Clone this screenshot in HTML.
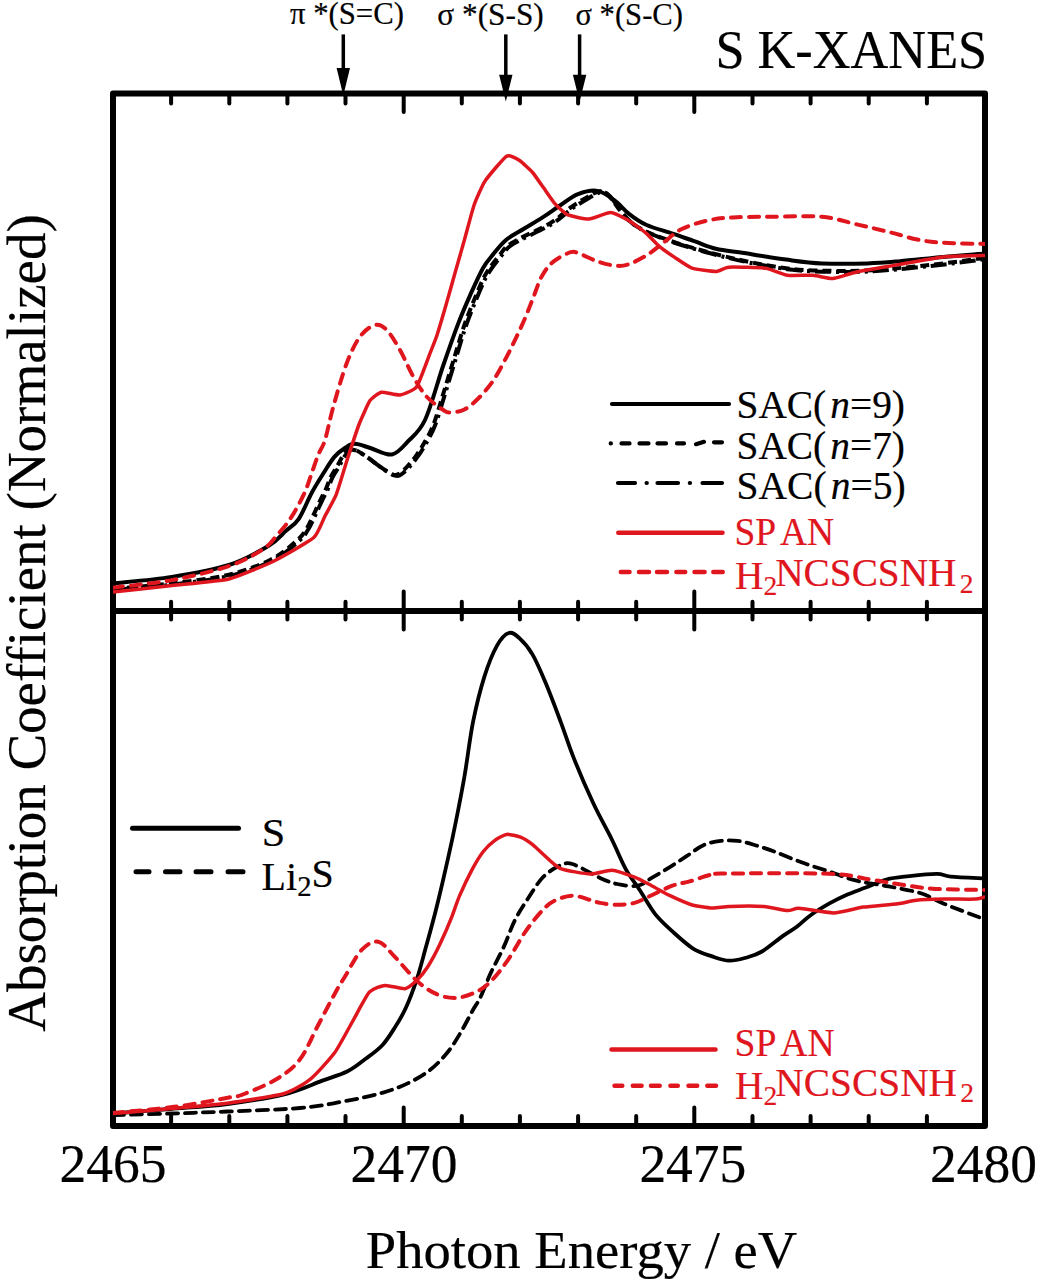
<!DOCTYPE html><html><head><meta charset="utf-8"><style>html,body{margin:0;padding:0;background:#fff;width:1044px;height:1280px;overflow:hidden}svg{display:block}text{font-family:"Liberation Serif",serif}</style></head><body>
<svg width="1044" height="1280" viewBox="0 0 1044 1280">
<rect x="113.0" y="93.5" width="872.0" height="1032.5" fill="none" stroke="#000" stroke-width="6" stroke-linejoin="round"/>
<line x1="113.0" y1="611.0" x2="985.0" y2="611.0" stroke="#000" stroke-width="6"/>
<path d="M171.1 93.5V103.5M171.1 601.8V619.6M171.1 1126.0V1116.0M229.3 93.5V103.5M229.3 601.8V619.6M229.3 1126.0V1116.0M287.4 93.5V103.5M287.4 601.8V619.6M287.4 1126.0V1116.0M345.5 93.5V103.5M345.5 601.8V619.6M345.5 1126.0V1116.0M403.7 93.5V112.0M403.7 591.5V629.5M403.7 1126.0V1107.5M461.8 93.5V103.5M461.8 601.8V619.6M461.8 1126.0V1116.0M519.9 93.5V103.5M519.9 601.8V619.6M519.9 1126.0V1116.0M578.1 93.5V103.5M578.1 601.8V619.6M578.1 1126.0V1116.0M636.2 93.5V103.5M636.2 601.8V619.6M636.2 1126.0V1116.0M694.3 93.5V112.0M694.3 591.5V629.5M694.3 1126.0V1107.5M752.5 93.5V103.5M752.5 601.8V619.6M752.5 1126.0V1116.0M810.6 93.5V103.5M810.6 601.8V619.6M810.6 1126.0V1116.0M868.7 93.5V103.5M868.7 601.8V619.6M868.7 1126.0V1116.0M926.9 93.5V103.5M926.9 601.8V619.6M926.9 1126.0V1116.0" stroke="#000" stroke-width="4" stroke-linecap="round" fill="none"/>
<line x1="343.3" y1="34.4" x2="343.3" y2="71" stroke="#000" stroke-width="3.5"/>
<path d="M336.6 68 L350.0 68 L343.3 95.5 Z" fill="#000"/>
<line x1="505.8" y1="34.4" x2="505.8" y2="77.8" stroke="#000" stroke-width="3.5"/>
<path d="M499.1 74.8 L512.5 74.8 L505.8 101.6 Z" fill="#000"/>
<line x1="579.6" y1="34.4" x2="579.6" y2="77.8" stroke="#000" stroke-width="3.5"/>
<path d="M572.9 74.8 L586.3000000000001 74.8 L579.6 101.6 Z" fill="#000"/>
<text transform="translate(290.0,24.4) scale(0.9912,1)" font-size="31.0" fill="#000" stroke="#000" stroke-width="0.2">π *(S=C)</text>
<text transform="translate(437.3,24.5) scale(1.0097,1)" font-size="31.0" fill="#000" stroke="#000" stroke-width="0.2">σ *(S-S)</text>
<text transform="translate(575.4,24.5) scale(0.9887,1)" font-size="31.0" fill="#000" stroke="#000" stroke-width="0.2">σ *(S-C)</text>
<text transform="translate(715.4,67.9) scale(0.9693,1)" font-size="54.0" fill="#000" stroke="#000" stroke-width="0.2">S K-XANES</text>
<text transform="translate(59.5,1181.5) scale(0.99,1)" font-size="54.0" fill="#000" stroke="#000" stroke-width="0.2">2465</text>
<text transform="translate(350.5,1181.5) scale(0.99,1)" font-size="54.0" fill="#000" stroke="#000" stroke-width="0.2">2470</text>
<text transform="translate(639.4,1181.7) scale(0.99,1)" font-size="54.0" fill="#000" stroke="#000" stroke-width="0.2">2475</text>
<text transform="translate(930.1,1181.5) scale(0.99,1)" font-size="54.0" fill="#000" stroke="#000" stroke-width="0.2">2480</text>
<text transform="translate(45,623) rotate(-90)" font-size="55" stroke="#000" stroke-width="0.2" text-anchor="middle">Absorption Coefficient (Normalized)</text>
<text transform="translate(581.5,1267.5) scale(1.019,1)" font-size="53.6" stroke="#000" stroke-width="0.2" text-anchor="middle">Photon Energy / eV</text>
<path d="M612.0 404.0L729.0 404.0" stroke="#000" stroke-width="4.2" stroke-linecap="round" fill="none"/>
<text transform="translate(736.5,418.0) scale(1.0098,1)" font-size="39.0" fill="#000" stroke="#000" stroke-width="0.2">SAC(<tspan font-style="italic" dx="4">n</tspan>=9)</text>
<path d="M610.7 443.4L610.9 443.4M621.5 443.4L629.5 443.4M639.5 443.4L648.5 443.4M657.5 443.4L666.0 443.4M677.0 443.4L684.0 443.4M696.0 444.2L704.0 441.8M714.0 442.3L722.0 442.3" stroke="#000" stroke-width="4.2" stroke-linecap="round" fill="none"/>
<text transform="translate(736.5,458.8) scale(1.0098,1)" font-size="39.0" fill="#000" stroke="#000" stroke-width="0.2">SAC(<tspan font-style="italic" dx="4">n</tspan>=7)</text>
<path d="M618.0 483.0L635.0 483.0M646.6 483.0L646.8 483.0M657.5 483.0L678.0 483.0M689.8 483.0L690.0 483.0M702.5 483.0L722.0 483.0" stroke="#000" stroke-width="4.2" stroke-linecap="round" fill="none"/>
<text transform="translate(736.5,499.0) scale(1.0141,1)" font-size="39.0" fill="#000" stroke="#000" stroke-width="0.2">SAC(<tspan font-style="italic" dx="4">n</tspan>=5)</text>
<path d="M618.3 532.7L722.5 532.7" stroke="#e0161e" stroke-width="4.5" stroke-linecap="round" fill="none"/>
<text transform="translate(734.5,544.7) scale(0.9499,1)" font-size="39.5" fill="#e0161e" stroke="#e0161e" stroke-width="0.2">SP<tspan dx="4">AN</tspan></text>
<path d="M620.8 572.0L629.5 572.0M639.0 572.0L649.0 572.0M657.0 572.0L667.0 572.0M676.4 572.0L685.2 572.0M694.5 572.0L704.6 572.0M713.3 572.0L722.7 572.0" stroke="#e0161e" stroke-width="4.5" stroke-linecap="round" fill="none"/>
<text transform="translate(735.1,589.0) scale(0.9821,1)" font-size="40.0" fill="#e0161e" stroke="#e0161e" stroke-width="0.2">H<tspan font-size="0.7em" dy="0.23em">2</tspan><tspan dy="-0.23em" dx="-0.05em">NCSCSNH</tspan><tspan font-size="0.7em" dy="0.23em" dx="0.12em">2</tspan></text>
<path d="M132.5 828.3L238.5 828.3" stroke="#000" stroke-width="5" stroke-linecap="round" fill="none"/>
<text transform="translate(261.7,845.9) scale(1.0317,1)" font-size="41.0" fill="#000" stroke="#000" stroke-width="0.2">S</text>
<path d="M136.0 871.8L149.0 871.8M165.5 871.8L180.0 871.8M196.0 871.8L211.0 871.8M228.0 871.8L243.0 871.8" stroke="#000" stroke-width="5" stroke-linecap="round" fill="none"/>
<text transform="translate(261.6,889.6) scale(1.0,1)" font-size="40.0" fill="#000" stroke="#000" stroke-width="0.2">Li<tspan font-size="0.72em" dy="0.23em">2</tspan><tspan dy="-0.23em">S</tspan></text>
<path d="M611.5 1049.4L715.5 1049.4" stroke="#e0161e" stroke-width="4.5" stroke-linecap="round" fill="none"/>
<text transform="translate(734.5,1056.0) scale(0.9535,1)" font-size="39.5" fill="#e0161e" stroke="#e0161e" stroke-width="0.2">SP<tspan dx="4">AN</tspan></text>
<path d="M614.5 1085.7L622.3 1085.7M632.8 1085.7L641.6 1085.7M651.0 1085.7L659.7 1085.7M670.4 1085.7L677.8 1085.7M688.5 1085.7L697.2 1085.7M707.3 1085.7L716.0 1085.7" stroke="#e0161e" stroke-width="4.5" stroke-linecap="round" fill="none"/>
<text transform="translate(735.1,1098.6) scale(0.985,1)" font-size="40.0" fill="#e0161e" stroke="#e0161e" stroke-width="0.2">H<tspan font-size="0.7em" dy="0.23em">2</tspan><tspan dy="-0.23em" dx="-0.05em">NCSCSNH</tspan><tspan font-size="0.7em" dy="0.23em" dx="0.12em">2</tspan></text>
<g clip-path="url(#cp)">
<clipPath id="cp"><rect x="113.0" y="93.5" width="872.0" height="1032.5"/></clipPath>
<path d="M113.0 588.8C122.8 587.9 152.7 585.8 172.0 583.4C191.3 581.0 212.5 578.7 229.0 574.7C245.5 570.7 259.6 565.3 271.0 559.5C282.4 553.7 291.6 545.2 297.5 540.0C303.4 534.8 304.0 532.7 306.7 528.5C309.4 524.3 311.3 519.5 313.6 514.7C315.9 509.9 318.4 504.2 320.5 499.8C322.6 495.4 324.5 492.1 326.2 488.3C327.9 484.5 328.9 480.6 330.8 476.8C332.7 473.0 335.6 469.0 337.7 465.3C339.8 461.6 341.5 457.6 343.4 454.9C345.3 452.2 347.1 450.0 349.2 449.2C351.3 448.4 352.9 448.8 356.0 450.2C359.1 451.6 363.7 454.8 367.5 457.4C371.3 460.0 374.7 463.1 379.0 466.0C383.3 468.9 389.5 473.7 393.3 474.6C397.1 475.6 398.4 474.6 402.0 471.7C405.6 468.8 411.1 462.4 414.9 457.4C418.7 452.4 421.9 447.1 425.0 441.6C428.1 436.1 430.6 432.1 433.6 424.3C436.6 416.5 439.6 405.7 442.9 395.0C446.2 384.3 450.0 371.7 453.6 360.0C457.2 348.3 460.6 336.0 464.4 325.0C468.2 314.0 473.0 302.5 476.6 294.0C480.2 285.5 482.1 280.3 485.8 274.0C489.5 267.7 494.6 261.2 498.9 256.0C503.2 250.8 503.3 248.3 511.8 242.9C520.3 237.5 540.2 229.2 549.9 223.4C559.6 217.6 563.9 212.3 570.0 208.0C576.1 203.7 581.9 200.2 586.7 197.4C591.5 194.6 595.4 191.8 599.0 191.4C602.6 191.0 603.0 190.0 608.4 195.2C613.8 200.4 621.4 215.3 631.4 222.8C641.4 230.3 652.0 234.3 668.2 240.1C684.5 245.9 709.3 252.7 728.9 257.4C748.5 262.1 768.7 265.9 786.0 268.2C803.3 270.4 817.4 270.6 832.8 270.9C848.2 271.2 859.9 271.1 878.3 269.8C896.7 268.6 925.4 265.4 943.2 263.4C961.0 261.4 978.0 258.8 985.0 257.9" fill="none" stroke="#000" stroke-width="4" stroke-linejoin="round" stroke-linecap="butt" stroke-dasharray="9 5"/>
<path d="M114.5 589.8C124.3 588.9 154.2 586.8 173.5 584.4C192.8 582.0 214.0 579.7 230.5 575.7C247.0 571.7 261.1 566.3 272.5 560.5C283.9 554.7 293.1 546.2 299.0 541.0C304.9 535.8 305.5 533.7 308.2 529.5C310.9 525.3 312.8 520.5 315.1 515.7C317.4 510.9 319.9 505.2 322.0 500.8C324.1 496.4 326.0 493.1 327.7 489.3C329.4 485.5 330.4 481.6 332.3 477.8C334.2 474.0 337.1 470.0 339.2 466.3C341.3 462.6 343.0 458.6 344.9 455.9C346.8 453.2 348.6 451.0 350.7 450.2C352.8 449.4 354.4 449.8 357.5 451.2C360.6 452.6 365.2 455.8 369.0 458.4C372.8 461.0 376.2 464.1 380.5 467.0C384.8 469.9 391.0 474.7 394.8 475.6C398.6 476.6 399.9 475.6 403.5 472.7C407.1 469.8 412.6 463.4 416.4 458.4C420.2 453.4 423.4 448.1 426.5 442.6C429.6 437.1 432.1 433.1 435.1 425.3C438.1 417.5 441.1 406.7 444.4 396.0C447.7 385.3 451.5 372.7 455.1 361.0C458.7 349.3 462.1 337.0 465.9 326.0C469.7 315.0 474.5 303.5 478.1 295.0C481.7 286.5 483.6 281.3 487.3 275.0C491.0 268.7 496.1 262.2 500.4 257.0C504.7 251.8 504.8 249.3 513.3 243.9C521.8 238.5 541.7 230.2 551.4 224.4C561.1 218.6 565.4 213.3 571.5 209.0C577.6 204.7 583.4 201.2 588.2 198.4C593.0 195.6 596.9 192.8 600.5 192.4C604.1 192.0 604.5 191.0 609.9 196.2C615.3 201.4 622.9 216.3 632.9 223.8C642.9 231.3 653.5 235.3 669.7 241.1C686.0 246.9 710.8 253.7 730.4 258.4C750.0 263.1 770.2 266.9 787.5 269.2C804.8 271.4 818.9 271.6 834.3 271.9C849.7 272.2 861.4 272.1 879.8 270.8C898.2 269.6 926.9 266.4 944.7 264.4C962.5 262.4 979.5 259.8 986.5 258.9" fill="none" stroke="#000" stroke-width="4" stroke-linejoin="round" stroke-linecap="butt" stroke-dasharray="16 5 3 5"/>
<path d="M113.0 583.4C122.8 582.3 152.7 580.0 172.0 576.9C191.3 573.8 212.9 570.2 229.0 565.0C245.1 559.8 259.2 551.4 268.7 545.7C278.2 540.0 281.0 535.3 286.0 530.8C291.0 526.3 294.5 525.2 298.8 518.8C303.1 512.4 307.8 500.0 311.9 492.5C315.9 485.0 319.4 479.7 323.1 473.8C326.9 467.9 330.6 461.3 334.4 456.9C338.1 452.5 342.2 449.7 345.6 447.5C349.0 445.3 350.9 443.7 355.0 443.8C359.1 443.9 364.2 446.2 370.3 448.0C376.4 449.8 385.7 455.6 391.9 454.5C398.1 453.4 402.2 447.4 407.7 441.6C413.2 435.9 419.1 432.5 425.0 420.0C430.9 407.5 437.4 382.6 442.9 366.5C448.4 350.4 453.6 335.6 458.2 323.6C462.8 311.6 466.4 303.6 470.5 294.4C474.6 285.2 479.0 275.1 482.8 268.4C486.6 261.7 489.2 259.1 493.1 254.4C497.0 249.7 500.9 244.3 506.0 240.0C511.1 235.7 517.7 232.7 523.9 228.8C530.1 225.0 537.3 220.9 543.4 216.9C549.5 212.9 554.9 208.8 560.7 205.0C566.5 201.2 571.9 196.4 578.0 194.1C584.1 191.8 591.4 189.8 597.5 190.9C603.6 192.0 609.5 196.7 614.8 200.6C620.1 204.5 624.0 210.0 629.3 214.1C634.6 218.2 639.4 221.8 646.6 225.0C653.8 228.2 664.7 230.9 672.6 233.6C680.5 236.3 687.0 238.7 694.2 241.2C701.4 243.7 707.6 246.8 715.9 248.8C724.2 250.8 732.3 251.3 744.0 253.1C755.7 254.9 773.0 257.9 786.0 259.6C799.0 261.3 808.4 262.8 822.0 263.4C835.6 264.0 854.4 263.8 867.4 263.4C880.4 263.0 887.3 262.3 899.9 261.2C912.5 260.1 929.0 258.2 943.2 256.9C957.4 255.6 978.0 254.1 985.0 253.5" fill="none" stroke="#000" stroke-width="4" stroke-linejoin="round" stroke-linecap="butt"/>
<path d="M113.0 592.0C117.9 591.5 162.3 586.6 172.0 585.5C181.7 584.4 220.5 581.1 229.0 579.0C237.5 576.9 267.4 564.2 274.5 560.7C281.6 557.2 309.6 541.2 313.8 537.5C318.0 533.8 323.1 519.6 325.0 516.0C326.9 512.4 334.4 499.2 336.3 494.4C338.2 489.6 345.6 464.6 347.5 458.8C349.4 453.0 356.9 429.9 358.8 425.0C360.7 420.1 368.1 403.3 370.0 400.6C371.9 397.9 378.8 392.7 381.3 392.2C383.8 391.7 397.1 395.5 400.0 395.0C402.9 394.5 414.2 390.2 416.7 386.7C419.2 383.2 428.3 357.5 430.0 353.3C431.7 349.1 435.5 339.8 436.8 335.8C438.1 331.8 444.5 310.2 446.0 305.0C447.5 299.8 453.5 278.4 455.0 273.0C456.5 267.6 462.8 245.7 464.4 240.0C466.0 234.3 472.4 209.9 474.1 205.0C475.8 200.1 482.3 185.2 485.0 181.1C487.7 177.0 503.7 157.9 506.6 156.2C509.5 154.5 517.4 159.2 519.6 160.6C521.8 162.0 530.6 170.2 532.6 172.5C534.6 174.8 541.6 185.1 543.4 187.6C545.2 190.1 552.2 200.5 554.2 202.8C556.2 205.1 564.3 213.3 567.2 214.7C570.1 216.0 585.3 219.2 588.9 219.0C592.5 218.8 607.3 212.4 610.5 212.5C613.7 212.6 624.8 218.4 627.8 220.1C630.8 221.8 643.4 230.9 646.0 233.1C648.6 235.3 657.2 244.6 659.6 246.6C662.0 248.6 672.0 255.6 674.7 257.4C677.4 259.2 688.6 267.0 692.0 268.2C695.4 269.4 712.8 271.6 715.9 271.5C719.0 271.4 724.8 267.5 728.9 267.2C733.0 266.9 760.8 267.5 765.7 268.2C770.6 268.9 783.3 274.7 787.3 275.3C791.3 275.9 809.5 275.0 813.3 275.3C817.1 275.6 829.2 278.8 832.8 278.5C836.4 278.2 851.0 273.2 856.6 272.0C862.2 270.8 892.7 265.7 899.9 264.4C907.1 263.1 936.1 257.6 943.2 256.9C950.3 256.2 981.5 255.6 985.0 255.5" fill="none" stroke="#e0161e" stroke-width="3.5" stroke-linejoin="round" stroke-linecap="butt"/>
<path d="M113.0 587.7C122.8 586.4 152.7 583.7 172.0 580.1C191.3 576.5 213.8 571.1 229.0 566.0C244.2 560.9 255.0 554.3 263.0 549.2C271.0 544.1 272.6 540.0 276.8 535.4C281.0 530.8 284.9 526.4 288.3 521.6C291.8 516.8 294.6 511.9 297.5 506.7C300.4 501.5 303.2 496.0 305.5 490.6C307.8 485.2 309.2 480.4 311.3 474.5C313.4 468.6 315.9 460.6 318.2 454.9C320.5 449.1 322.5 448.0 325.0 440.0C327.5 432.0 329.7 419.5 333.3 406.7C336.9 393.9 342.2 375.0 346.7 363.3C351.1 351.6 355.3 343.1 360.0 336.7C364.7 330.3 370.6 326.1 375.0 325.0C379.4 323.9 382.5 325.8 386.7 330.0C390.9 334.2 395.6 342.2 400.0 350.0C404.4 357.8 408.9 368.9 413.3 376.7C417.8 384.5 421.7 391.1 426.7 396.7C431.7 402.2 439.4 407.4 443.3 410.0C447.2 412.6 446.5 412.5 450.0 412.4C453.5 412.3 459.6 411.9 464.4 409.5C469.2 407.1 473.9 402.8 478.7 398.0C483.5 393.2 488.8 387.0 493.1 380.8C497.4 374.6 501.0 367.4 504.6 360.7C508.2 354.0 511.4 347.6 514.7 340.6C518.1 333.7 521.6 326.2 524.7 319.0C527.8 311.8 530.4 304.7 533.3 297.5C536.2 290.3 538.6 281.9 542.0 275.9C545.4 269.9 548.6 265.6 553.4 261.6C558.2 257.7 566.4 253.5 570.7 252.2C575.0 250.9 574.8 252.0 579.3 253.6C583.8 255.2 592.1 259.6 598.0 261.6C603.9 263.6 609.8 265.1 614.8 265.6C619.8 266.1 622.5 266.2 627.8 264.5C633.1 262.8 640.6 259.0 646.6 255.3C652.6 251.6 658.1 246.6 663.9 242.3C669.7 238.0 674.0 232.9 681.2 229.3C688.4 225.7 698.5 222.6 707.2 220.6C715.9 218.6 722.7 218.0 733.2 217.4C743.7 216.8 755.2 216.9 770.0 216.8C784.8 216.7 807.6 215.5 822.0 216.8C836.4 218.1 845.4 221.9 856.6 224.4C867.8 226.9 878.9 229.5 889.0 232.0C899.1 234.5 908.2 237.7 917.2 239.5C926.2 241.3 931.9 242.1 943.2 242.8C954.5 243.5 978.0 243.7 985.0 243.9" fill="none" stroke="#e0161e" stroke-width="4" stroke-linejoin="round" stroke-linecap="round" stroke-dasharray="10 8"/>
<path d="M113.0 1115.0C122.8 1114.8 152.9 1114.1 172.0 1113.5C191.1 1112.9 206.0 1112.4 227.3 1111.5C248.6 1110.6 280.7 1109.7 300.0 1108.0C319.3 1106.3 329.6 1104.0 343.3 1101.5C357.0 1099.0 371.5 1095.9 382.3 1092.8C393.1 1089.7 400.3 1086.9 408.2 1083.1C416.1 1079.3 423.4 1075.1 429.9 1070.1C436.4 1065.0 442.1 1058.9 447.2 1052.8C452.2 1046.7 455.9 1040.5 460.2 1033.3C464.5 1026.1 469.9 1015.4 473.2 1009.5C476.5 1003.6 477.2 1004.0 480.1 997.9C483.1 991.8 486.9 981.1 490.9 972.6C494.9 964.1 499.9 955.3 503.9 946.6C507.9 937.9 510.7 928.5 514.7 920.6C518.7 912.7 523.0 906.2 527.7 899.0C532.4 891.8 537.5 882.9 542.9 877.3C548.3 871.7 555.2 867.6 560.2 865.4C565.2 863.2 566.6 862.2 573.2 864.3C579.8 866.4 592.7 874.6 600.0 877.9C607.3 881.2 610.9 882.7 617.2 884.0C623.5 885.3 632.1 886.7 637.9 885.7C643.6 884.7 646.5 880.9 651.7 877.9C656.9 874.9 663.2 871.2 669.0 867.6C674.8 864.0 680.5 860.1 686.2 856.4C691.9 852.7 697.6 847.8 703.4 845.2C709.1 842.6 715.0 841.6 720.7 840.9C726.5 840.2 732.1 840.2 737.9 840.9C743.6 841.6 748.9 843.3 755.2 845.2C761.5 847.1 768.2 849.2 775.9 852.1C783.6 855.0 792.5 859.1 801.4 862.3C810.2 865.5 819.8 868.4 829.0 871.5C838.2 874.6 846.6 878.2 856.6 880.7C866.6 883.2 878.0 884.3 888.7 886.4C899.4 888.5 911.7 890.4 920.9 893.3C930.1 896.2 933.2 899.3 943.9 903.7C954.6 908.1 978.1 916.9 985.0 919.5" fill="none" stroke="#000" stroke-width="3.8" stroke-linejoin="round" stroke-linecap="round" stroke-dasharray="11 7"/>
<path d="M113.0 1113.5C122.5 1112.8 151.2 1110.6 170.3 1109.0C189.4 1107.4 208.3 1106.5 227.3 1104.0C246.3 1101.5 268.6 1098.1 284.3 1094.3C300.0 1090.5 311.1 1084.8 321.6 1080.9C332.2 1077.1 340.4 1074.8 347.6 1071.2C354.8 1067.6 359.2 1063.6 365.0 1059.3C370.8 1055.0 377.2 1050.6 382.3 1045.2C387.4 1039.8 391.3 1033.1 395.3 1026.8C399.3 1020.5 402.5 1015.4 406.1 1007.3C409.7 999.2 413.9 988.0 417.1 978.3C420.3 968.6 422.1 961.1 425.3 949.3C428.6 937.4 432.9 922.2 436.6 907.2C440.4 892.2 444.5 873.9 447.8 859.4C451.1 844.9 453.4 834.1 456.2 820.0C459.0 805.9 461.9 791.4 464.7 775.0C467.5 758.6 469.8 738.0 473.1 721.6C476.4 705.2 480.4 689.3 484.4 676.6C488.4 663.9 492.9 652.9 497.0 645.6C501.1 638.3 505.0 634.2 508.8 633.0C512.6 631.8 515.6 634.8 519.6 638.4C523.6 642.0 528.3 647.2 532.6 654.6C536.9 662.0 540.9 671.6 545.6 682.8C550.3 694.0 556.0 709.3 560.7 721.8C565.4 734.3 568.3 744.3 573.7 757.9C579.1 771.5 586.9 789.6 593.3 803.3C599.7 817.0 606.7 829.0 612.1 840.0C617.5 851.0 621.3 861.0 625.9 869.3C630.5 877.6 634.8 882.5 639.7 890.0C644.6 897.5 649.8 907.2 655.2 914.1C660.7 921.0 666.1 925.6 672.4 931.4C678.7 937.1 686.5 944.4 693.1 948.6C699.7 952.8 706.1 954.4 712.1 956.4C718.1 958.4 723.5 960.5 729.3 960.7C735.0 960.9 741.1 959.0 746.6 957.5C752.1 956.0 755.9 955.1 762.0 951.5C768.1 947.9 777.2 940.0 783.0 935.9C788.8 931.8 792.2 930.2 796.8 926.7C801.4 923.2 805.2 919.0 810.6 915.2C816.0 911.4 822.9 907.2 829.0 903.7C835.1 900.2 841.3 897.2 847.4 894.5C853.5 891.8 859.2 890.1 865.7 887.6C872.2 885.1 879.1 881.4 886.4 879.5C893.7 877.6 901.0 877.1 909.4 876.1C917.8 875.1 930.1 873.7 937.0 873.8C943.9 873.9 942.8 875.8 950.8 876.6C958.8 877.4 979.3 878.1 985.0 878.4" fill="none" stroke="#000" stroke-width="3.8" stroke-linejoin="round" stroke-linecap="butt"/>
<path d="M113.0 1113.5C118.9 1113.0 160.4 1109.5 172.0 1108.5C183.6 1107.5 217.8 1104.5 229.0 1103.0C240.2 1101.5 276.1 1095.9 284.3 1093.5C292.5 1091.1 305.8 1082.9 310.8 1078.8C315.8 1074.7 330.5 1058.4 334.6 1052.8C338.7 1047.2 348.5 1028.6 352.0 1022.5C355.5 1016.4 366.0 995.9 369.3 992.2C372.6 988.5 381.3 985.8 384.9 985.4C388.5 985.0 401.8 989.2 405.0 988.7C408.2 988.2 414.6 982.5 416.9 980.3C419.2 978.0 425.8 969.8 428.1 966.2C430.4 962.6 437.7 949.0 440.0 944.1C442.3 939.2 449.6 922.5 451.5 917.7C453.4 912.9 457.4 900.7 459.5 895.9C461.6 891.1 469.8 873.9 472.2 869.4C474.6 864.9 481.4 853.9 483.7 851.0C486.0 848.1 492.9 841.8 495.2 840.1C497.5 838.4 504.2 834.7 506.7 834.4C509.2 834.1 518.0 836.2 520.5 837.2C523.0 838.2 529.7 842.4 532.0 844.1C534.3 845.8 540.6 852.1 543.4 854.5C546.2 856.9 555.3 866.3 560.0 868.3C564.7 870.3 585.3 873.9 590.5 874.1C595.7 874.3 607.7 869.9 612.1 870.2C616.5 870.5 630.5 875.6 634.5 877.1C638.5 878.6 648.2 883.9 651.7 885.7C655.2 887.5 665.0 893.3 669.0 895.2C673.0 897.1 687.1 903.4 691.4 904.7C695.7 906.0 708.3 907.9 712.1 908.1C715.9 908.3 724.1 906.7 729.3 906.5C734.5 906.3 758.0 906.1 763.8 906.5C769.6 906.9 784.1 910.4 787.6 910.6C791.1 910.8 794.5 908.1 799.1 908.3C803.7 908.5 827.2 913.0 833.6 912.9C840.0 912.8 857.0 908.0 863.4 907.1C869.8 906.2 892.6 904.4 897.9 903.7C903.2 903.0 911.7 900.7 916.3 900.2C920.9 899.7 937.9 899.2 943.9 899.1C949.9 899.0 972.0 899.3 976.1 899.1C980.2 898.9 984.1 897.0 985.0 896.8" fill="none" stroke="#e0161e" stroke-width="3.5" stroke-linejoin="round" stroke-linecap="butt"/>
<path d="M113.0 1113.0C123.7 1111.9 157.7 1109.1 177.0 1106.5C196.3 1103.9 217.8 1099.6 229.0 1097.5C240.2 1095.4 236.0 1097.2 244.1 1094.0C252.2 1090.8 268.3 1084.3 277.6 1078.5C286.9 1072.7 293.4 1067.9 300.0 1059.3C306.6 1050.7 311.2 1038.3 317.3 1026.8C323.4 1015.2 332.2 998.3 336.8 990.0C341.4 981.7 340.6 983.6 344.7 977.0C348.8 970.4 355.8 956.1 361.4 950.2C367.0 944.3 372.6 940.7 378.2 941.8C383.8 942.9 388.4 950.3 394.9 956.9C401.4 963.5 410.3 975.0 417.3 981.2C424.3 987.4 430.3 991.4 436.8 994.2C443.3 997.0 449.8 998.2 456.3 997.9C462.8 997.5 470.0 994.9 475.8 992.1C481.6 989.3 485.5 986.6 490.9 981.2C496.3 975.8 502.4 967.9 508.2 959.6C514.0 951.3 519.8 939.7 525.6 931.4C531.4 923.1 537.9 915.0 542.9 909.8C547.9 904.6 550.8 902.5 555.9 900.1C561.0 897.8 567.4 895.7 573.2 895.7C579.0 895.7 586.0 898.9 590.5 900.1C595.0 901.3 595.5 902.1 600.0 902.9C604.5 903.7 611.5 904.7 617.2 904.7C623.0 904.7 628.8 904.5 634.5 902.9C640.2 901.3 645.4 898.1 651.7 895.2C658.0 892.3 666.1 888.0 672.4 885.7C678.7 883.4 683.7 883.1 689.7 881.4C695.7 879.7 703.4 876.6 708.6 875.3C713.8 874.0 700.6 873.9 720.7 873.6C740.8 873.4 804.1 872.8 829.0 873.8C853.9 874.8 858.8 877.8 870.3 879.5C881.8 881.2 887.5 882.6 897.9 884.1C908.2 885.6 917.9 887.7 932.4 888.7C946.9 889.7 976.2 889.8 985.0 890.0" fill="none" stroke="#e0161e" stroke-width="4" stroke-linejoin="round" stroke-linecap="round" stroke-dasharray="10 8"/>
</g>
</svg></body></html>
